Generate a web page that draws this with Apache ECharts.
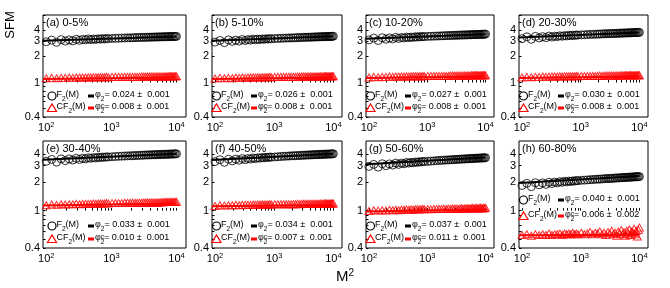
<!DOCTYPE html>
<html><head><meta charset="utf-8">
<script src="https://cdn.jsdelivr.net/npm/echarts@6/dist/echarts.min.js"></script>
<style>html,body{margin:0;padding:0;background:#fff}#c{width:670px;height:288px}</style>
</head><body><div id="c"></div>
<script>
// ---------- data ----------
const panelTitles = ['(a) 0-5%','(b) 5-10%','(c) 10-20%','(d) 20-30%','(e) 30-40%','(f) 40-50%','(g) 50-60%','(h) 60-80%'];
const M2 = [100,121,144,169,196,225,256,289,324,361,400,441,484,529,576,625,676,729,784,841,900,
  1024,1156,1296,1444,1600,1764,1936,2116,2304,2500,2704,2916,3136,3364,3600,3844,4096,4356,4624,4900,
  5184,5476,5776,6084,6400,6724,7056,7396,7744,8100,8464,8836,9216,9604,10000];

const F2_a = [2.95,3.08,2.90,3.12,3.00,3.10,3.02,3.15,3.06,3.14,3.10,3.18,3.12,3.17,3.14,3.19,3.16,3.20,3.18,3.21,3.20,
  3.22,3.23,3.24,3.25,3.26,3.27,3.27,3.28,3.29,3.30,3.30,3.31,3.31,3.32,3.32,3.33,3.33,3.34,3.34,3.35,3.35,3.35,3.36,3.36,3.37,3.37,3.37,3.38,3.38,3.38,3.39,3.39,3.39,3.40,3.40];
const F2_b = [2.92,3.05,2.88,3.10,2.98,3.08,3.00,3.13,3.05,3.12,3.08,3.16,3.11,3.16,3.13,3.18,3.15,3.19,3.17,3.20,3.19,
  3.21,3.22,3.23,3.24,3.25,3.26,3.27,3.27,3.28,3.29,3.30,3.30,3.31,3.32,3.32,3.33,3.33,3.34,3.34,3.35,3.35,3.36,3.36,3.37,3.37,3.37,3.38,3.38,3.39,3.39,3.39,3.40,3.40,3.41,3.41];
const F2_c = [3.10,3.25,3.05,3.28,3.15,3.27,3.18,3.31,3.22,3.30,3.26,3.34,3.29,3.34,3.31,3.37,3.34,3.38,3.36,3.39,3.38,
  3.40,3.41,3.42,3.43,3.44,3.45,3.46,3.47,3.48,3.48,3.49,3.50,3.50,3.51,3.52,3.52,3.53,3.53,3.54,3.54,3.55,3.55,3.56,3.56,3.57,3.57,3.58,3.58,3.58,3.59,3.59,3.60,3.60,3.60,3.61];
const F2_d = [3.20,3.36,3.15,3.40,3.26,3.38,3.29,3.43,3.34,3.42,3.38,3.46,3.41,3.47,3.44,3.50,3.47,3.51,3.49,3.53,3.52,
  3.54,3.55,3.57,3.58,3.59,3.60,3.61,3.62,3.63,3.64,3.65,3.65,3.66,3.67,3.67,3.68,3.69,3.69,3.70,3.71,3.71,3.72,3.72,3.73,3.73,3.74,3.74,3.75,3.75,3.76,3.76,3.77,3.77,3.78,3.78];
const F2_e = [3.35,3.50,3.28,3.55,3.40,3.55,3.45,3.60,3.50,3.60,3.55,3.65,3.60,3.66,3.63,3.69,3.66,3.71,3.69,3.73,3.72,
  3.74,3.76,3.78,3.79,3.81,3.82,3.83,3.84,3.85,3.86,3.87,3.88,3.89,3.90,3.91,3.91,3.92,3.93,3.93,3.94,3.95,3.95,3.96,3.96,3.97,3.97,3.98,3.98,3.99,3.99,4.00,4.00,4.01,4.01,4.02];
const F2_f = [3.32,3.48,3.26,3.52,3.38,3.53,3.43,3.58,3.48,3.58,3.53,3.63,3.58,3.64,3.61,3.67,3.64,3.69,3.67,3.71,3.70,
  3.72,3.74,3.76,3.78,3.79,3.81,3.82,3.83,3.84,3.85,3.86,3.87,3.88,3.89,3.90,3.91,3.91,3.92,3.93,3.94,3.94,3.95,3.96,3.96,3.97,3.97,3.98,3.98,3.99,3.99,4.00,4.00,4.01,4.01,4.02];
const F2_g = [2.95,3.10,2.90,3.15,3.00,3.14,3.05,3.20,3.10,3.20,3.15,3.25,3.20,3.26,3.23,3.29,3.26,3.31,3.29,3.33,3.32,
  3.34,3.36,3.38,3.40,3.41,3.43,3.44,3.45,3.46,3.47,3.48,3.49,3.50,3.51,3.52,3.53,3.54,3.54,3.55,3.56,3.57,3.57,3.58,3.59,3.59,3.60,3.61,3.61,3.62,3.62,3.63,3.63,3.64,3.64,3.65];
const F2_h = [1.85,1.95,1.80,1.98,1.88,1.97,1.90,2.00,1.94,2.01,1.97,2.03,2.00,2.05,2.02,2.06,2.04,2.07,2.06,2.09,2.08,
  2.10,2.11,2.12,2.13,2.14,2.15,2.16,2.16,2.17,2.18,2.19,2.19,2.20,2.20,2.21,2.22,2.22,2.23,2.23,2.24,2.24,2.25,2.25,2.26,2.26,2.27,2.27,2.27,2.28,2.28,2.29,2.29,2.29,2.30,2.30];

const CF2_a = [1.12,1.13,1.12,1.13,1.13,1.14,1.13,1.14,1.14,1.14,1.14,1.15,1.14,1.15,1.15,1.15,1.15,1.15,1.15,1.16,1.15,
  1.16,1.16,1.16,1.16,1.16,1.16,1.16,1.16,1.16,1.16,1.16,1.17,1.17,1.17,1.17,1.17,1.17,1.17,1.17,1.17,1.17,1.17,1.17,1.17,1.17,1.17,1.17,1.18,1.18,1.18,1.18,1.18,1.18,1.18,1.18];
const CF2_b = [1.11,1.13,1.12,1.13,1.12,1.14,1.13,1.14,1.13,1.14,1.14,1.15,1.14,1.15,1.14,1.15,1.15,1.15,1.15,1.16,1.15,
  1.16,1.16,1.16,1.16,1.16,1.16,1.16,1.16,1.16,1.17,1.16,1.17,1.17,1.17,1.17,1.17,1.17,1.17,1.17,1.17,1.17,1.17,1.17,1.18,1.17,1.17,1.18,1.18,1.18,1.18,1.18,1.18,1.18,1.18,1.18];
const CF2_c = [1.14,1.16,1.15,1.16,1.16,1.17,1.16,1.17,1.17,1.17,1.17,1.18,1.17,1.18,1.18,1.18,1.18,1.18,1.18,1.19,1.18,
  1.19,1.19,1.19,1.19,1.19,1.19,1.19,1.19,1.19,1.20,1.20,1.20,1.20,1.20,1.20,1.20,1.20,1.20,1.20,1.20,1.20,1.20,1.21,1.21,1.21,1.21,1.21,1.21,1.21,1.21,1.21,1.21,1.21,1.21,1.21];
const CF2_d = [1.14,1.16,1.15,1.16,1.16,1.17,1.16,1.17,1.17,1.17,1.17,1.18,1.17,1.18,1.18,1.18,1.18,1.18,1.18,1.19,1.18,
  1.19,1.19,1.19,1.19,1.19,1.19,1.19,1.20,1.19,1.20,1.20,1.20,1.20,1.20,1.20,1.20,1.20,1.20,1.20,1.21,1.20,1.21,1.21,1.21,1.21,1.21,1.21,1.21,1.21,1.21,1.21,1.21,1.21,1.21,1.21];
const CF2_e = [1.14,1.16,1.15,1.17,1.16,1.17,1.17,1.18,1.17,1.18,1.18,1.18,1.18,1.19,1.18,1.19,1.19,1.19,1.19,1.20,1.19,
  1.20,1.20,1.20,1.20,1.21,1.21,1.21,1.21,1.21,1.21,1.21,1.21,1.22,1.22,1.22,1.22,1.22,1.22,1.22,1.22,1.22,1.22,1.23,1.22,1.23,1.23,1.23,1.23,1.23,1.23,1.23,1.23,1.24,1.23,1.24];
const CF2_f = [1.12,1.14,1.13,1.14,1.14,1.15,1.14,1.15,1.15,1.15,1.15,1.16,1.15,1.16,1.16,1.16,1.16,1.16,1.16,1.17,1.16,
  1.17,1.17,1.17,1.17,1.17,1.17,1.17,1.17,1.17,1.18,1.17,1.18,1.18,1.18,1.18,1.18,1.18,1.18,1.18,1.18,1.18,1.18,1.18,1.19,1.18,1.18,1.19,1.19,1.19,1.19,1.19,1.19,1.19,1.19,1.19];
const CF2_g = [0.99,1.01,1.00,1.01,1.00,1.02,1.01,1.02,1.01,1.02,1.02,1.03,1.02,1.03,1.02,1.03,1.03,1.03,1.03,1.04,1.03,
  1.04,1.03,1.04,1.04,1.04,1.04,1.05,1.04,1.05,1.04,1.05,1.05,1.05,1.04,1.05,1.06,1.05,1.05,1.06,1.05,1.06,1.05,1.06,1.07,1.05,1.06,1.07,1.05,1.06,1.08,1.06,1.05,1.07,1.06,1.07];
const CF2_h = [0.55,0.56,0.54,0.56,0.55,0.56,0.55,0.57,0.55,0.56,0.56,0.57,0.55,0.57,0.56,0.57,0.56,0.58,0.56,0.57,0.56,
  0.58,0.56,0.57,0.59,0.56,0.58,0.57,0.60,0.56,0.58,0.55,0.59,0.57,0.61,0.56,0.58,0.54,0.60,0.57,0.62,0.56,0.59,0.54,0.61,0.57,0.63,0.55,0.60,0.58,0.64,0.56,0.61,0.53,0.62,0.66];

const F2 = [F2_a,F2_b,F2_c,F2_d,F2_e,F2_f,F2_g,F2_h];
const CF2 = [CF2_a,CF2_b,CF2_c,CF2_d,CF2_e,CF2_f,CF2_g,CF2_h];

// fitted power-law lines: value at left edge and at M^2 = 10^4
const fitX = [89, 10000];
const fitF2 = [[3.03,3.40],[3.02,3.41],[3.19,3.61],[3.30,3.78],[3.48,4.03],[3.46,4.03],[3.12,3.68],[1.97,2.34]];
const fitCF2 = [[1.10,1.14],[1.10,1.14],[1.13,1.17],[1.13,1.17],[1.13,1.19],[1.11,1.15],[0.98,1.03],[0.545,0.555]];

const phi2 = ['0.024','0.026','0.027','0.030','0.033','0.034','0.037','0.040'];
const phi2Err = ['0.001','0.001','0.001','0.001','0.001','0.001','0.001','0.001'];
const phi2c = ['0.008','0.008','0.008','0.008','0.010','0.007','0.011','0.006'];
const phi2cErr = ['0.001','0.001','0.001','0.001','0.001','0.001','0.001','0.002'];

const xTickExps = [2,3,4];
const yTickLabelsTop = [0.4,1,2,3,4];
const yTickLabelsBottom = [0.4,1,2,3,4,5];

// ---------- layout ----------
const FONT = 'Liberation Sans, Arial, Helvetica, sans-serif';
const cols = [[43,143],[212,130],[366,128],[519,129]];
const rows = [[15,102,6],[141,107,5.5]];
const xMin = Math.log10(89), xMax = Math.log10(14000);
const xMinor = [];
[100,1000].forEach(b => { for (let k=1;k<=9;k++) xMinor.push(Math.log10(b*k)); });
xMinor.push(4);
const yMinorVals = [0.4,0.5,0.6,0.7,0.8,0.9,1,2,3,4,5,6];

const L = v => Math.log10(v);
const grid = [], xAxis = [], yAxis = [], series = [], title = [], graphic = [];

const legRich = {
  t:  {fontSize: 9, fontFamily: FONT, fill: '#000', color: '#000', lineHeight: 11, verticalAlign: 'top'},
  sb: {fontSize: 6.5, fontFamily: FONT, fill: '#000', color: '#000', lineHeight: 6, padding: [5,0,0,0], verticalAlign: 'top'},
  sb0:{fontSize: 6.5, fontFamily: FONT, fill: '#000', color: '#000', lineHeight: 6, padding: [5,0,0,0], verticalAlign: 'top', width: 0.01},
  sp: {fontSize: 6.5, fontFamily: FONT, fill: '#000', color: '#000', lineHeight: 6, verticalAlign: 'top'}
};
function legText(x, y, text) {
  return {type: 'text', x: x, y: y, z: 10, style: {text: text, rich: legRich, fill: '#000', align: 'left', verticalAlign: 'middle'}};
}

for (let p = 0; p < 8; p++) {
  const r = Math.floor(p/4), c = p % 4;
  const [gl, gw] = cols[c];
  const [gt, gh, ymax] = rows[r];
  const yLabels = r === 0 ? yTickLabelsTop : yTickLabelsBottom;
  grid.push({left: gl, top: gt, width: gw, height: gh, show: true, borderColor: '#000', borderWidth: 1, backgroundColor: 'transparent'});
  xAxis.push({
    type: 'value', gridIndex: p, min: xMin, max: xMax,
    axisLine: {show: false}, splitLine: {show: false},
    axisTick: {inside: true, length: 2.5, lineStyle: {color: '#000'}, customValues: xMinor},
    axisLabel: {
      customValues: xTickExps, margin: 4, color: '#000', fontFamily: FONT,
      formatter: v => '{b|10}{s|' + Math.round(v) + '}',
      rich: {b: {fontSize: 11, fontFamily: FONT, color: '#000', lineHeight: 14},
             s: {fontSize: 7.5, fontFamily: FONT, color: '#000', verticalAlign: 'top', lineHeight: 8}}
    }
  });
  yAxis.push({
    type: 'value', gridIndex: p, min: L(0.4), max: L(ymax),
    axisLine: {show: false}, splitLine: {show: false},
    axisTick: {inside: true, length: 2.5, lineStyle: {color: '#000'}, customValues: yMinorVals.filter(v => v <= ymax).map(L)},
    axisLabel: {
      customValues: yLabels.map(L), margin: 3, color: '#000', fontFamily: FONT, fontSize: 11,
      formatter: v => String(+Math.pow(10, v).toFixed(1))
    }
  });
  title.push({text: panelTitles[p], left: gl + 3, top: gt + 2, padding: 0,
    textStyle: {fontSize: 11, fontWeight: 'normal', color: '#000', fontFamily: FONT}});

  series.push({
    name: 'F2_' + p, type: 'scatter', xAxisIndex: p, yAxisIndex: p,
    symbol: 'circle', symbolSize: 8,
    itemStyle: {color: 'rgba(0,0,0,0)', borderColor: '#000', borderWidth: 1},
    data: M2.map((m, i) => [L(m), L(F2[p][i])]), z: 2
  });
  series.push({
    name: 'CF2_' + p, type: 'scatter', xAxisIndex: p, yAxisIndex: p,
    symbol: 'triangle', symbolSize: [8, 7],
    itemStyle: {color: 'rgba(0,0,0,0)', borderColor: '#ff0000', borderWidth: 1},
    data: M2.map((m, i) => [L(m), L(CF2[p][i])]), z: 2
  });
  series.push({
    name: 'fit_' + p, type: 'line', xAxisIndex: p, yAxisIndex: p, showSymbol: false, symbol: 'none',
    lineStyle: {color: '#000', width: 2}, itemStyle: {color: '#000'},
    data: fitX.map((x, i) => [L(x), L(fitF2[p][i])]), z: 3
  });
  series.push({
    name: 'fitc_' + p, type: 'line', xAxisIndex: p, yAxisIndex: p, showSymbol: false, symbol: 'none',
    lineStyle: {color: '#ff0000', width: 2}, itemStyle: {color: '#ff0000'},
    data: fitX.map((x, i) => [L(x), L(fitCF2[p][i])]), z: 3
  });

  // in-panel legend
  const bottom = gt + gh;
  let y1, y2;
  if (p === 7) { y1 = 200; y2 = 216; }
  else if (r === 0) { y1 = bottom - 21; y2 = bottom - 9; }
  else { y1 = bottom - 22; y2 = bottom - 9; }
  const ic = (c === 0) ? gl + 9 : gl + 4.5;     // marker icon centre
  const lx = (c === 0) ? gl + 45 : gl + 39;     // line icon left
  graphic.push({type: 'circle', z: 10, shape: {cx: ic, cy: y1, r: 4}, style: {fill: 'none', stroke: '#000', lineWidth: 1.2}});
  graphic.push(legText(ic + 4.5, y1, '{t|F}{sb|2}{t|(M)}'));
  graphic.push({type: 'polygon', z: 10, shape: {points: [[ic - 4.5, y2 + 3.5], [ic + 4.5, y2 + 3.5], [ic, y2 - 4]]},
    style: {fill: 'none', stroke: '#ff0000', lineWidth: 1.2}});
  graphic.push(legText(ic + 4.5, y2, '{t|CF}{sb|2}{t|(M)}'));
  graphic.push({type: 'rect', z: 10, shape: {x: lx, y: y1 - 1.5, width: 6, height: 3}, style: {fill: '#000'}});
  graphic.push(legText(lx + 7, y1, '{t|\u03c6}{sb|2}{t|= ' + phi2[p] + ' \u00b1  ' + phi2Err[p] + '}'));
  graphic.push({type: 'rect', z: 10, shape: {x: lx, y: y2 - 1.5, width: 6, height: 3}, style: {fill: '#ff0000'}});
  graphic.push(legText(lx + 7, y2, '{t|\u03c6}{sb0|2}{sp|c}{t|= ' + phi2c[p] + ' \u00b1  ' + phi2cErr[p] + '}'));
}

graphic.push({type: 'text', x: 10, y: 25, rotation: Math.PI / 2,
  style: {text: 'SFM', fontSize: 13, fontFamily: FONT, fill: '#000', align: 'center', verticalAlign: 'middle'}});
graphic.push({type: 'text', x: 345, y: 277,
  style: {text: '{b|M}{s|2}', fill: '#000', align: 'center', verticalAlign: 'middle',
    rich: {b: {fontSize: 15, fontFamily: FONT, lineHeight: 18}, s: {fontSize: 10, fontFamily: FONT, verticalAlign: 'top', lineHeight: 10}}}});

const chart = echarts.init(document.getElementById('c'), null, {renderer: 'canvas'});
chart.setOption({
  animation: false,
  backgroundColor: '#fff',
  textStyle: {fontFamily: FONT},
  title, grid, xAxis, yAxis, series, graphic
});
</script>
</body></html>
